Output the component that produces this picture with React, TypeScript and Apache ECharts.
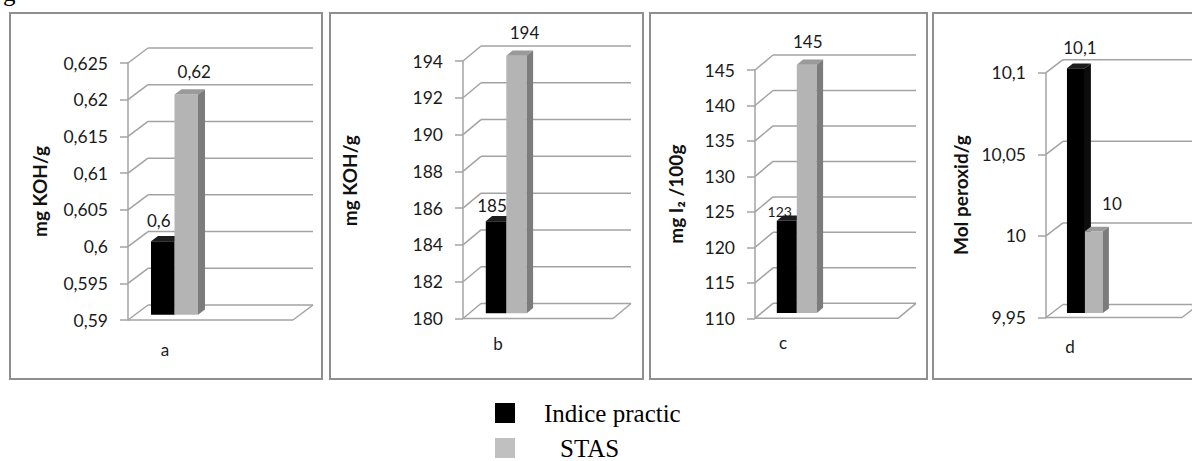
import { useEffect, useRef } from 'react';
import * as echarts from 'echarts';

const categories = ['a', 'b', 'c', 'd'];
const seriesNames = ['Indice practic', 'STAS'];
const indicePractic = [0.6, 185, 123, 10.1];
const stas = [0.62, 194, 145, 10];
const axisTitles = ['mg KOH/g', 'mg KOH/g', 'mg I\u2082 /100g', 'Mol peroxid/g'];
const ticksA = [0.59, 0.595, 0.6, 0.605, 0.61, 0.615, 0.62, 0.625];
const ticksB = [180, 182, 184, 186, 188, 190, 192, 194];
const ticksC = [110, 115, 120, 125, 130, 135, 140, 145];
const ticksD = [9.95, 10, 10.05, 10.1];
const tickSets = [ticksA, ticksB, ticksC, ticksD];
const seriesValues = [indicePractic, stas];

const panels = [
  { box: [10, 13, 312, 366], left: 128, top: 63, bottom: 320, width: 74, depth: [20, -15], floor: 165, barGap: 16, barW: 23.5, catMargin: 21, nameGap: 79, namePad: [0, 0, 0, 0], labelOff: [[-4, -16], [8, -18]], labelSize: [17, 17] },
  { box: [330, 13, 313, 366], left: 463, top: 61, bottom: 318.5, width: 70, depth: [18, -15], floor: 150, barGap: 16.5, barW: 20.5, catMargin: 16, nameGap: 104, namePad: [0, 0, 0, 18], labelOff: [[-4, -11], [8, -18]], labelSize: [17, 17] },
  { box: [650, 13, 277, 366], left: 755, top: 70, bottom: 318.3, width: 56, depth: [18, -15], floor: 143, barGap: 15.5, barW: 20, catMargin: 16, nameGap: 70, namePad: [0, 0, 0, 0], labelOff: [[-7, -4], [1, -18]], labelSize: [14, 17] },
  { box: [933, 13, 300, 366], left: 1046, top: 72.7, bottom: 317.5, width: 48, depth: [17, -13], floor: 136, barGap: 15, barW: 18, catMargin: 20, nameGap: 76, namePad: [0, 0, 0, 0], labelOff: [[4, -16], [18, -23]], labelSize: [17, 17] },
];

const barColors = [
  { front: '#000000', top: '#1c1c1c', side: '#0d0d0d' },
  { front: '#b4b4b4', top: '#9a9a9a', side: '#7c7c7c' },
];
const gridColor = '#a3a3a3';
const textColor = '#1a1a1a';
const fmt = (v: number) => String(+v.toFixed(4)).replace('.', ',');

function wallRenderer(i: number) {
  return (params: any, api: any) => {
    const p = panels[i];
    const [dx, dy] = p.depth;
    const t = api.value(1);
    const y = api.coord([0, t])[1];
    const x0 = params.coordSys.x;
    const ls = { stroke: gridColor, lineWidth: 1.5 };
    const children: any[] = [
      { type: 'line', shape: { x1: x0, y1: y, x2: x0 + dx, y2: y + dy }, style: ls },
      { type: 'line', shape: { x1: x0 + dx, y1: y + dy, x2: x0 + p.floor + dx, y2: y + dy }, style: ls },
    ];
    if (params.dataIndex === 0) {
      children.push({ type: 'line', shape: { x1: x0, y1: y, x2: x0 + p.floor, y2: y }, style: ls });
      children.push({ type: 'line', shape: { x1: x0 + p.floor, y1: y, x2: x0 + p.floor + dx, y2: y + dy }, style: ls });
    }
    return { type: 'group', children };
  };
}

function barRenderer(i: number, s: number) {
  return (params: any, api: any) => {
    const p = panels[i];
    const [dx, dy] = p.depth;
    const bx = dx * 0.35;
    const by = dy * 0.35;
    const v = api.value(1);
    const top = api.coord([0, v]);
    const base = api.coord([0, tickSets[i][0]]);
    const w = p.barW;
    const x0 = params.coordSys.x + p.barGap + bx + s * w;
    const yT = top[1] + by;
    const yB = base[1] + by;
    const c = barColors[s];
    const [ldx, ldy] = p.labelOff[s];
    return {
      type: 'group',
      children: [
        { type: 'rect', shape: { x: x0, y: yT, width: w, height: yB - yT }, style: { fill: c.front } },
        { type: 'polygon', shape: { points: [[x0, yT], [x0 + w, yT], [x0 + w + bx, yT + by], [x0 + bx, yT + by]] }, style: { fill: c.top } },
        { type: 'polygon', shape: { points: [[x0 + w, yT], [x0 + w + bx, yT + by], [x0 + w + bx, yB + by], [x0 + w, yB]] }, style: { fill: c.side } },
        {
          type: 'text',
          x: x0 + w / 2 + ldx,
          y: yT + by + ldy,
          style: { text: fmt(v), fontFamily: 'Lato', fontSize: p.labelSize[s], fill: textColor, align: 'center', verticalAlign: 'middle' },
        },
      ],
    };
  };
}

export default function App() {
  const ref = useRef<HTMLDivElement>(null);
  useEffect(() => {
    if (!ref.current) return;
    const chart = echarts.init(ref.current, undefined, { renderer: 'svg' });
    const series: any[] = [];
    panels.forEach((p, i) => {
      series.push({
        type: 'custom', xAxisIndex: i, yAxisIndex: i, silent: true, clip: false, z: 1,
        data: tickSets[i].map((t) => [0, t]),
        renderItem: wallRenderer(i),
      });
    });
    [0, 1].forEach((s) => {
      panels.forEach((p, i) => {
        series.push({
          type: 'custom', name: seriesNames[s], xAxisIndex: i, yAxisIndex: i, clip: false, z: 2 + s,
          itemStyle: { color: barColors[s].front },
          data: [[0, seriesValues[s][i]]],
          renderItem: barRenderer(i, s),
        });
      });
    });
    const option: any = {
      animation: false,
      backgroundColor: '#ffffff',
      grid: panels.map((p) => ({ left: p.left, top: p.top, width: p.width, height: p.bottom - p.top })),
      xAxis: panels.map((p, i) => ({
        type: 'category', gridIndex: i, data: [categories[i]],
        axisLine: { show: false }, axisTick: { show: false }, splitLine: { show: false },
        axisLabel: { margin: p.catMargin, fontFamily: 'Lato', fontSize: 17, color: textColor },
      })),
      yAxis: panels.map((p, i) => {
        const t = tickSets[i];
        return {
          type: 'value', gridIndex: i, min: t[0], max: t[t.length - 1], interval: +(t[1] - t[0]).toFixed(6),
          axisLine: { show: true, lineStyle: { color: gridColor, width: 1.5 } },
          axisTick: { show: true, length: 8, inside: false, lineStyle: { color: gridColor, width: 1.5 } },
          splitLine: { show: false },
          axisLabel: { margin: 20, fontFamily: 'Lato', fontSize: 17.5, color: textColor, formatter: (v: number) => fmt(v) },
          name: axisTitles[i], nameLocation: 'middle', nameRotate: 90, nameGap: p.nameGap,
          nameTextStyle: { fontFamily: 'Lato', fontWeight: 'bold', fontSize: 19, color: '#111', padding: p.namePad },
        };
      }),
      legend: [
        {
          data: [{ name: seriesNames[0], itemStyle: { color: '#000000' } }], left: 495, top: 400, orient: 'vertical', padding: 0,
          itemWidth: 20, itemHeight: 20, icon: 'rect', selectedMode: false,
          textStyle: { fontFamily: 'Liberation Serif', fontSize: 25, color: '#000', padding: [0, 0, 0, 24], lineHeight: 26 },
        },
        {
          data: [{ name: seriesNames[1], itemStyle: { color: '#c0c0c0' } }], left: 495, top: 435, orient: 'vertical', padding: 0,
          itemWidth: 20, itemHeight: 20, icon: 'rect', selectedMode: false,
          textStyle: { fontFamily: 'Liberation Serif', fontSize: 25, color: '#000', padding: [0, 0, 0, 40], lineHeight: 26 },
        },
      ],
      graphic: [
        ...panels.map((p) => ({
          type: 'rect', silent: true, z: -1,
          shape: { x: p.box[0], y: p.box[1], width: p.box[2], height: p.box[3] },
          style: { fill: 'none', stroke: '#8f8f8f', lineWidth: 2 },
        })),
        { type: 'text', x: 3, y: 5, silent: true, style: { text: 'g', font: '25px "Liberation Serif"', fill: '#000', verticalAlign: 'bottom' } },
      ],
      series,
    };
    chart.setOption(option);
    return () => chart.dispose();
  }, []);
  return <div ref={ref} style={{ position: 'absolute', left: 0, top: 0, width: 1192, height: 461, background: '#fff' }} />;
}
